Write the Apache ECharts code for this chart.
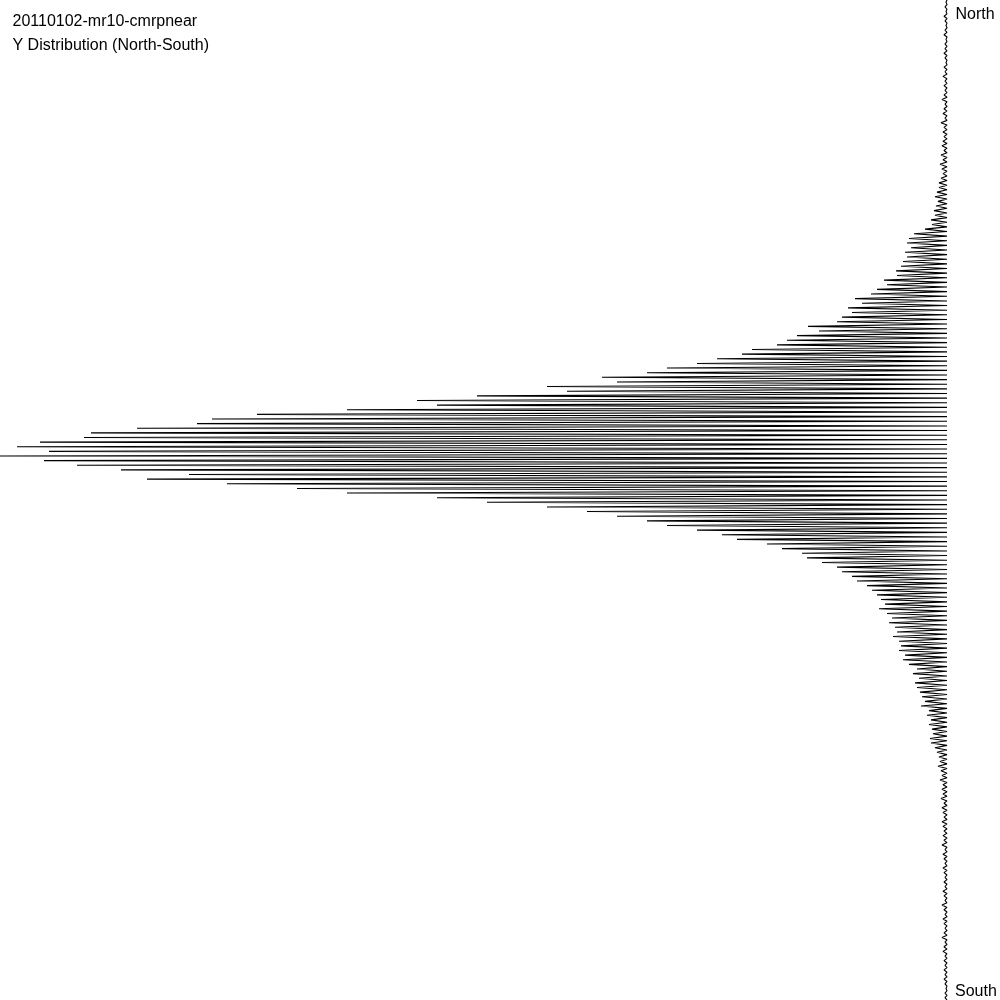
<!DOCTYPE html>
<html>
<head>
<meta charset="utf-8">
<script src="https://cdn.jsdelivr.net/npm/echarts@6/dist/echarts.min.js"></script>
<style>html,body{margin:0;padding:0;background:#fff}#c{width:1000px;height:1000px}</style>
</head>
<body>
<div id="c"></div>
<script>
const titleText = "20110102-mr10-cmrpnear";
const subtitleText = "Y Distribution (North-South)";
const topLabel = "North";
const bottomLabel = "South";

// Counts per Y bin, from North (top) to South (bottom)
const bins0 = [1,2,1,3,2,1,2,3,1,2, 2,3,2,1,3,2,4,2,3,2, 3,5,2,3,4,2,6,3,4,3, 4,5,3,6,4,7,5,4,6,8];
const bins1 = [8,10,12,9,11,13,12,16,15,22, 33,38,40,36,42,40,44,46,51,50, 63,60,70,76,92,85,99,95,105,110];
const bins2 = [139,128,150,160,170,195,205,230,250,280, 300,345,330,400,380,470,530,510,600,690];
const bins3 = [735,750,810,856,863,907,930,898,947,903, 870,826,758,800,720,650,600,510,460,400];
const bins4 = [360,330,300,280,250,225,210,180,165,145, 140,125,110,105,95,90,80,75,70,66, 62,68,60,55,58,52,50,54,48,46];
const bins5 = [48,42,44,38,30,34,28,32,30,27, 25,22,26,18,20,16,18,15,14,17, 16,12,10,8,7,9,6,5,7,4];
const bins6 = [5,4,6,3,5,4,3,5,4,3, 4,3,5,2,4,3,2,4,3,2, 3,2,4,3,2,5,3,2,4,3, 2,3,5,2,3,4,2,3,2,3, 2,3,2,1,2,2];
const counts = [].concat(bins0, bins1, bins2, bins3, bins4, bins5, bins6);
const N = counts.length;

const pts = [];
for (let i = 0; i < N; i++) {
  pts.push([0, i]);
  pts.push([counts[i], i + 0.5]);
}
pts.push([0, N]);

const chart = echarts.init(document.getElementById('c'), null, {renderer: 'canvas'});
chart.setOption({
  animation: false,
  backgroundColor: '#fff',
  grid: {left: 0, right: 53, top: 0, bottom: 0},
  xAxis: {type: 'value', inverse: true, min: 0, max: 947, show: false},
  yAxis: {type: 'value', inverse: true, min: 0, max: N, show: false},
  series: [{
    type: 'line',
    data: pts,
    showSymbol: false,
    symbol: 'none',
    lineStyle: {color: '#000', width: 1.1},
    silent: true
  }],
  graphic: [
    {type: 'text', left: 12.5, top: 14, style: {text: titleText, font: '16px "Liberation Sans", Arial, sans-serif', fill: '#000'}},
    {type: 'text', left: 12.5, top: 38, style: {text: subtitleText, font: '16px "Liberation Sans", Arial, sans-serif', fill: '#000'}},
    {type: 'text', left: 955.5, top: 7, style: {text: topLabel, font: '16px "Liberation Sans", Arial, sans-serif', fill: '#000'}},
    {type: 'text', left: 955, top: 984, style: {text: bottomLabel, font: '16px "Liberation Sans", Arial, sans-serif', fill: '#000'}}
  ]
});
</script>
</body>
</html>
